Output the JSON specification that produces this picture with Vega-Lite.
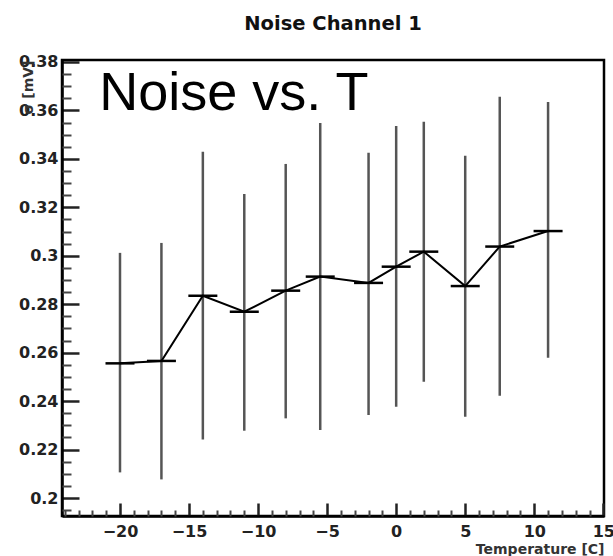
{
  "$schema": "https://vega.github.io/schema/vega-lite/v6.json",
  "width": 542,
  "height": 456,
  "autosize": "none",
  "padding": {"left": 62, "top": 60, "right": 9, "bottom": 40},
  "background": "white",
  "config": {
    "view": {"stroke": "black", "strokeWidth": 2.5},
    "font": "DejaVu Sans"
  },
  "title": {
    "text": "Noise Channel 1",
    "font": "DejaVu Sans",
    "fontWeight": "bold",
    "fontSize": 19.5,
    "color": "#111",
    "anchor": "middle",
    "offset": 19
  },
  "data": {
    "values": [
      {"t": -20, "tlo": -21.05, "thi": -18.95, "noise": 0.2556, "lo": 0.2106, "hi": 0.3012},
      {"t": -17, "tlo": -18.05, "thi": -15.95, "noise": 0.2566, "lo": 0.2077, "hi": 0.3053},
      {"t": -14, "tlo": -15.05, "thi": -12.95, "noise": 0.2835, "lo": 0.2242, "hi": 0.3429},
      {"t": -11, "tlo": -12.05, "thi": -9.95, "noise": 0.2769, "lo": 0.2278, "hi": 0.3255},
      {"t": -8, "tlo": -9.05, "thi": -6.95, "noise": 0.2856, "lo": 0.2329, "hi": 0.3379},
      {"t": -5.5, "tlo": -6.55, "thi": -4.45, "noise": 0.2914, "lo": 0.2281, "hi": 0.3548},
      {"t": -2, "tlo": -3.05, "thi": -0.95, "noise": 0.2888, "lo": 0.2343, "hi": 0.3425},
      {"t": 0, "tlo": -1.05, "thi": 1.05, "noise": 0.2955, "lo": 0.2377, "hi": 0.3536},
      {"t": 2, "tlo": 0.95, "thi": 3.05, "noise": 0.3017, "lo": 0.2480, "hi": 0.3553},
      {"t": 5, "tlo": 3.95, "thi": 6.05, "noise": 0.2875, "lo": 0.2336, "hi": 0.3413},
      {"t": 7.5, "tlo": 6.45, "thi": 8.55, "noise": 0.3038, "lo": 0.2422, "hi": 0.3656},
      {"t": 11, "tlo": 9.95, "thi": 12.05, "noise": 0.3102, "lo": 0.2579, "hi": 0.3635}
    ]
  },
  "resolve": {"axis": {"x": "independent", "y": "independent"}},
  "layer": [
    {
      "mark": {"type": "rule", "color": "#555", "strokeWidth": 2.5},
      "encoding": {
        "x": {
          "field": "t", "type": "quantitative",
          "scale": {"domain": [-24.2, 15.05], "nice": false, "zero": false},
          "axis": {
            "orient": "bottom",
            "values": [-20, -15, -10, -5, 0, 5, 10, 15],
            "tickSize": -13, "tickWidth": 2.5, "tickColor": "#222",
            "domainColor": "black", "domainWidth": 2.5,
            "labelFont": "DejaVu Sans", "labelFontWeight": "bold", "labelFontSize": 16, "labelColor": "#222",
            "labelPadding": 20, "labelFlush": false,
            "grid": false,
            "title": "Temperature [C]",
            "titleFont": "DejaVu Sans", "titleFontWeight": "bold", "titleFontSize": 14, "titleColor": "#333",
            "titleAnchor": "end", "titleBaseline": "alphabetic", "titleY": 37
          }
        },
        "y": {
          "field": "lo", "type": "quantitative",
          "scale": {"domain": [0.1926, 0.3808], "nice": false, "zero": false},
          "axis": {
            "orient": "left",
            "values": [0.2, 0.22, 0.24, 0.26, 0.28, 0.3, 0.32, 0.34, 0.36, 0.38],
            "format": "~g",
            "tickSize": -17, "tickWidth": 2.5, "tickColor": "#222",
            "domainColor": "black", "domainWidth": 2.5,
            "labelFont": "DejaVu Sans", "labelFontWeight": "bold", "labelFontSize": 16, "labelColor": "#222",
            "labelPadding": 21, "labelFlush": false,
            "grid": false,
            "title": "σ [mV]",
            "titleFont": "DejaVu Sans", "titleFontWeight": "bold", "titleFontSize": 14, "titleColor": "#333",
            "titleAnchor": "end", "titleBaseline": "alphabetic", "titleX": -30
          }
        },
        "y2": {"field": "hi"}
      }
    },
    {
      "mark": {"type": "rule", "color": "black", "strokeWidth": 2.5},
      "encoding": {
        "x": {"field": "tlo", "type": "quantitative", "axis": null},
        "x2": {"field": "thi"},
        "y": {"field": "noise", "type": "quantitative", "axis": null}
      }
    },
    {
      "mark": {"type": "line", "color": "black", "strokeWidth": 2},
      "encoding": {
        "x": {
          "field": "t", "type": "quantitative",
          "axis": {
            "orient": "bottom",
            "values": [-24, -23, -22, -21, -19, -18, -17, -16, -14, -13, -12, -11, -9, -8, -7, -6, -4, -3, -2, -1, 1, 2, 3, 4, 6, 7, 8, 9, 11, 12, 13, 14],
            "tickSize": -6, "tickWidth": 2, "tickColor": "#444",
            "labels": false, "domain": false, "grid": false, "title": null
          }
        },
        "y": {
          "field": "noise", "type": "quantitative",
          "axis": {
            "orient": "left",
            "values": [0.195, 0.205, 0.21, 0.215, 0.225, 0.23, 0.235, 0.245, 0.25, 0.255, 0.265, 0.27, 0.275, 0.285, 0.29, 0.295, 0.305, 0.31, 0.315, 0.325, 0.33, 0.335, 0.345, 0.35, 0.355, 0.365, 0.37, 0.375],
            "tickSize": -9, "tickWidth": 2, "tickColor": "#444",
            "labels": false, "domain": false, "grid": false, "title": null
          }
        }
      }
    },
    {
      "data": {"values": [{"label": "Noise vs. T"}]},
      "mark": {"type": "text", "align": "left", "baseline": "alphabetic", "font": "Liberation Sans", "fontSize": 54, "color": "black"},
      "encoding": {
        "x": {"datum": -21.5, "type": "quantitative", "axis": null},
        "y": {"datum": 0.3602, "type": "quantitative", "axis": null},
        "text": {"field": "label"}
      }
    }
  ]
}
